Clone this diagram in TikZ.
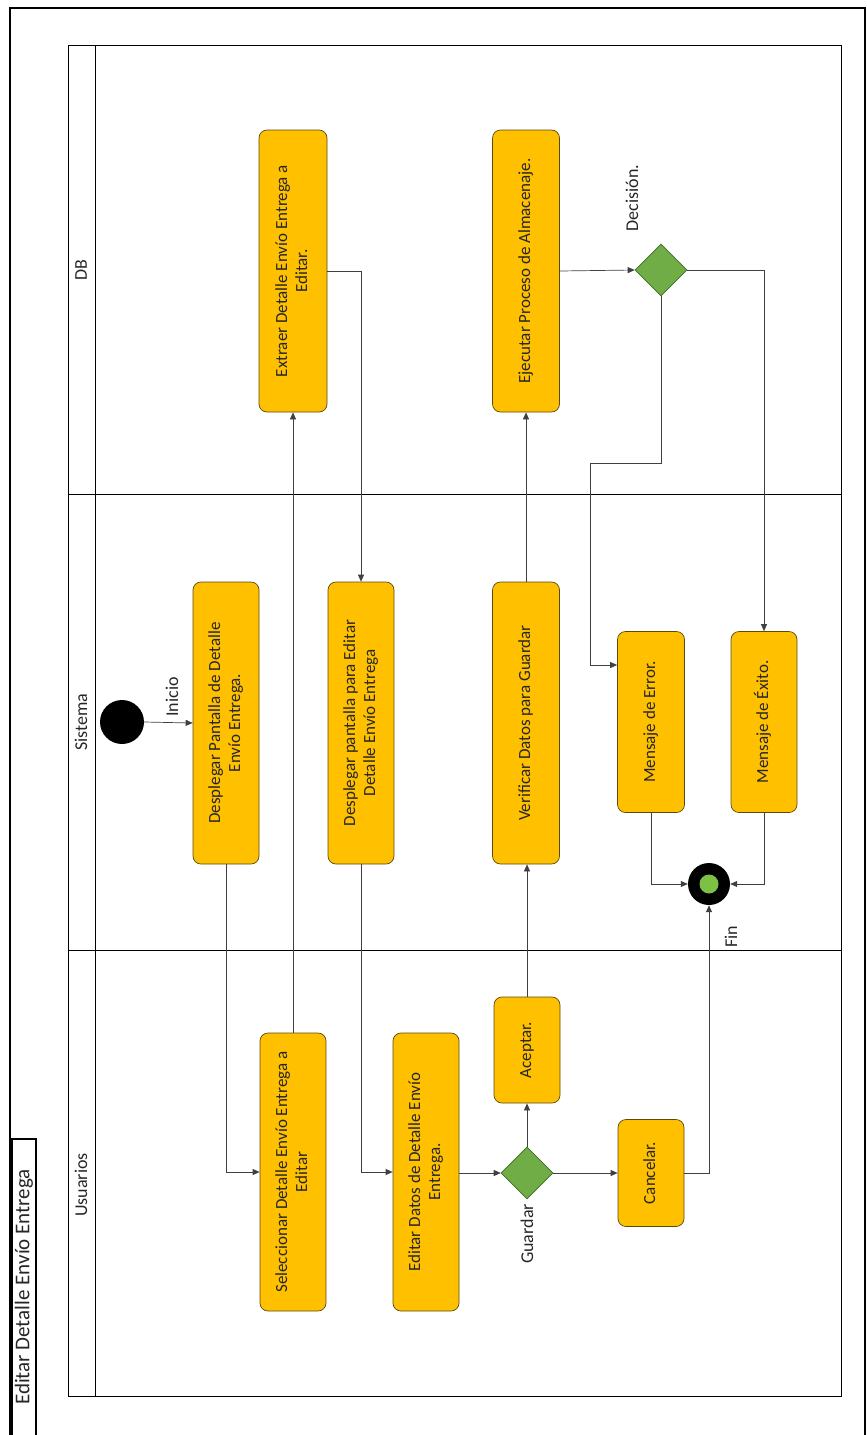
\documentclass[tikz,border=0pt]{standalone}
\usepackage{fontspec}
\setmainfont{Carlito}
\usetikzlibrary{arrows.meta,shapes.geometric,calc}
\definecolor{boxfill}{HTML}{FFC000}
\definecolor{boxdraw}{HTML}{5A4A10}
\definecolor{gfill}{HTML}{70AD47}
\definecolor{gdraw}{HTML}{3F6B28}
\definecolor{endg}{HTML}{7CC144}
\definecolor{conn}{HTML}{404040}
\newcommand{\actbox}[6]{\node[act, minimum width=#4pt, minimum height=#5pt] (#1) at (#2,#3) {\rotatebox{90}{\begin{tabular}{@{}c@{}}#6\end{tabular}}};}
\begin{document}
\begin{tikzpicture}[x=1pt,y=-1pt,
  act/.style={draw=boxdraw, fill=boxfill, rounded corners=8pt, line width=0.7pt, inner sep=0pt, font=\fontsize{17}{20}\selectfont, text=black!85},
  dec/.style={diamond, draw=gdraw, fill=gfill, inner sep=0pt, minimum width=52pt, minimum height=52pt, line width=0.6pt},
  flow/.style={draw=conn, line width=0.7pt, -{Triangle[length=7pt,width=6pt]}},
  lane/.style={draw=black, line width=0.8pt},
  lbl/.style={font=\fontsize{18}{20}\selectfont, rotate=90, text=black!85, inner sep=0pt}
]
\useasboundingbox (0,0) rectangle (867,1435);
% outer page frame
\draw[line width=1.2pt] (10,1436) -- (10,8) -- (865,8) -- (865,1436);
% title tab
\draw[line width=1.2pt] (12,1436) -- (12,1139) -- (36,1139) -- (36,1436);
\node[lbl, font=\fontsize{21}{23}\selectfont] (title) at (24,1287) {Editar Detalle Envío Entrega};
% pool and lanes
\draw[lane] (68,45) rectangle (841,1396);
\draw[lane] (95,45) -- (95,1396);
\draw[lane] (68,494) -- (841,494);
\draw[lane] (68,950) -- (841,950);
\node[lbl] (lDB) at (81,270) {DB};
\node[lbl] (lSis) at (81,722) {Sistema};
\node[lbl] (lUsu) at (81,1185) {Usuarios};
% activities
\actbox{ext}{293}{271}{68}{282}{Extraer Detalle Envío Entrega a\\Editar.}
\actbox{ejec}{526}{271}{67}{282}{Ejecutar Proceso de Almacenaje.}
\actbox{desp1}{226}{723}{66}{282}{Desplegar Pantalla de Detalle\\Envío Entrega.}
\actbox{desp2}{361}{723}{66}{282}{Desplegar pantalla para Editar\\Detalle Envío Entrega}
\actbox{verif}{526}{723}{67}{282}{Verificar Datos para Guardar}
\actbox{error}{651}{722}{67}{181}{Mensaje de Error.}
\actbox{exito}{764}{722}{66}{181}{Mensaje de Éxito.}
\actbox{selec}{293}{1172}{66}{278}{Seleccionar Detalle Envío Entrega a\\Editar}
\actbox{editar}{426}{1172}{66}{278}{Editar Datos de Detalle Envío\\Entrega.}
\actbox{acept}{527}{1050}{66}{106}{Aceptar.}
\actbox{canc}{651}{1173}{66}{107}{Cancelar.}
% decisions
\node[dec] (dec1) at (661,270) {};
\node[dec] (guard) at (527,1173) {};
\node[lbl] (tdec) at (632,198) {Decisión.};
\node[lbl] (tguard) at (527,1234) {Guardar};
% start / end
\node[circle, fill=black, minimum size=44pt, inner sep=0pt] (start) at (122,722) {};
\node[lbl] (tini) at (172,697) {Inicio};
\node[circle, fill=black, minimum size=42pt, inner sep=0pt] (fin) at (709,884) {};
\node[circle, fill=endg, minimum size=19pt, inner sep=0pt] (finin) at (fin) {};
\node[lbl] (tfin) at (731,937) {Fin};
% connectors
\coordinate (b1) at (590,463);
\coordinate (b2) at (590,665);
\draw[flow] (start.east) -- (desp1.west);
\draw[flow] (desp1.south) |- (selec.west);
\draw[flow] (selec.north) -- (ext.south);
\draw[flow] (ext.east) -| (desp2.north);
\draw[flow] (desp2.south) |- (editar.west);
\draw[flow] (editar.east |- guard.west) -- (guard.west);
\draw[flow] (guard.north) -- (acept.south);
\draw[flow] (guard.east) -- (canc.west);
\draw[flow] (acept.north) -- (verif.south -| acept.north);
\draw[flow] (verif.north) -- (ejec.south);
\draw[flow] (ejec.east) -- (dec1.west);
\draw[flow] (dec1.south) |- (b1) -- (b2) -- (b2 -| error.west);
\draw[flow] (dec1.east) -| (exito.north);
\draw[flow] (error.south) |- (fin.west);
\draw[flow] (exito.south) |- (fin.east);
\draw[flow] (canc.east) -| (fin.south);
\end{tikzpicture}
\end{document}
